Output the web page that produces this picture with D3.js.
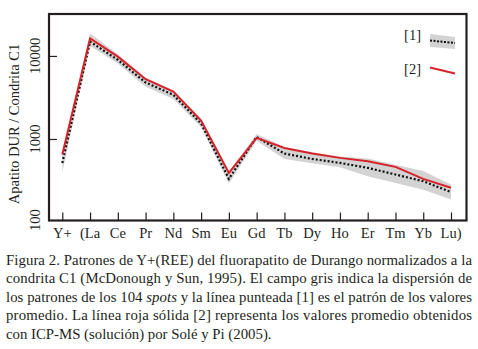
<!DOCTYPE html>
<html>
<head>
<meta charset="utf-8">
<script src="https://cdn.jsdelivr.net/npm/d3@7"></script>
<style>
body { margin: 0; background: #fff; }
svg text { font-family: "Liberation Serif", "DejaVu Serif", serif; fill: #231f20; }
</style>
</head>
<body>
<svg id="chart" width="478" height="349"></svg>
<script>
// elements (chondrite-normalised)
var elements = ["Y+", "La", "Ce", "Pr", "Nd", "Sm", "Eu", "Gd", "Tb", "Dy", "Ho", "Er", "Tm", "Yb", "Lu"];
var tickNames = ["Y+", "(La", "Ce", "Pr", "Nd", "Sm", "Eu", "Gd", "Tb", "Dy", "Ho", "Er", "Tm", "Yb", "Lu)"];

// [2] ICP-MS solucion (Sole y Pi 2005)
var icpms = [650, 16300, 9800, 5250, 3730, 1670, 390, 1030, 780, 667, 592, 539, 461, 331, 258];
// [1] promedio de los 104 spots
var mean = [515, 14860, 8960, 4790, 3400, 1530, 331, 1057, 667, 575, 515, 449, 373, 310, 229];
// campo gris (dispersion)
var bandHigh = [660, 18600, 10500, 5500, 3800, 1700, 400, 1150, 800, 690, 615, 580, 490, 410, 282];
var bandLow = [400, 13200, 8100, 4270, 3020, 1380, 290, 950, 575, 510, 457, 355, 295, 245, 186];

var yTicks = [100, 1000, 10000];
var captionLines = [
  ["Figura 2. Patrones de Y+(REE) del fluorapatito de Durango normalizados a la"],
  ["condrita C1 (McDonough y Sun, 1995). El campo gris indica la dispersión de"],
  ["los patrones de los 104 ", "spots", " y la línea punteada [1] es el patrón de los valores"],
  ["promedio. La línea roja sólida [2] representa los valores promedio obtenidos"],
  ["con ICP-MS (solución) por Solé y Pi (2005)."]
];

var svg = d3.select("#chart");
var frame = {left: 49, right: 466.5, top: 14, bottom: 220.5};

var x = d3.scalePoint().domain(elements).range([62.3, 451]);
var y = d3.scaleLog().domain([100, 32000]).range([222, 14]);

var rows = elements.map(function(e, i) {
  return {el: e, icp: icpms[i], mean: mean[i], lo: bandLow[i], hi: bandHigh[i]};
});

// gray band
svg.append("path")
  .datum(rows)
  .attr("fill", "#d3d3d3")
  .attr("d", d3.area()
    .x(function(d) { return x(d.el); })
    .y0(function(d) { return y(d.lo); })
    .y1(function(d) { return y(d.hi); }));

// dotted mean line
svg.append("path")
  .datum(rows)
  .attr("fill", "none")
  .attr("stroke", "#111")
  .attr("stroke-width", 2.2)
  .attr("stroke-dasharray", "2,2")
  .attr("d", d3.line()
    .x(function(d) { return x(d.el); })
    .y(function(d) { return y(d.mean); }));

// red ICP-MS line
svg.append("path")
  .datum(rows)
  .attr("fill", "none")
  .attr("stroke", "#d7222a")
  .attr("stroke-width", 2)
  .attr("d", d3.line()
    .x(function(d) { return x(d.el); })
    .y(function(d) { return y(d.icp); }));

// axes, ticks pointing inward
var xAx = svg.append("g")
  .attr("transform", "translate(0," + frame.bottom + ")")
  .call(d3.axisTop(x).tickSize(8).tickFormat(""));
xAx.select(".domain").remove();
xAx.selectAll("line").attr("stroke", "#231f20").attr("stroke-width", 1.2);

var yAx = svg.append("g")
  .attr("transform", "translate(" + frame.left + ",0)")
  .call(d3.axisRight(y).tickValues(yTicks.slice(1)).tickSize(8).tickFormat(""));
yAx.select(".domain").remove();
yAx.selectAll("line").attr("stroke", "#231f20").attr("stroke-width", 1.2);

// frame
svg.append("rect")
  .attr("x", frame.left).attr("y", frame.top)
  .attr("width", frame.right - frame.left)
  .attr("height", frame.bottom - frame.top)
  .attr("fill", "none")
  .attr("stroke", "#231f20")
  .attr("stroke-width", 2.2);

// x labels
svg.append("g").selectAll("text")
  .data(elements)
  .join("text")
  .attr("x", function(d) { return x(d); })
  .attr("y", 238)
  .attr("text-anchor", "middle")
  .attr("font-size", 14.5)
  .text(function(d, i) { return tickNames[i]; });

// y labels (rotated)
svg.append("g").selectAll("text")
  .data(yTicks)
  .join("text")
  .attr("transform", function(d) { return "translate(40," + Math.min(y(d), 220) + ") rotate(-90)"; })
  .attr("text-anchor", "middle")
  .attr("font-size", 14.5)
  .text(function(d) { return d; });

svg.append("text")
  .attr("transform", "translate(19,124) rotate(-90)")
  .attr("text-anchor", "middle")
  .attr("font-size", 14.5)
  .text("Apatito DUR / Condrita C1");

// legend
svg.append("text").attr("x", 421).attr("y", 40).attr("text-anchor", "end")
  .attr("font-size", 14.5).text("[1]");
svg.append("path")
  .attr("d", "M430,34 L455,37 L455,49 L430,47 Z")
  .attr("fill", "#d3d3d3");
svg.append("line")
  .attr("x1", 430).attr("y1", 40.5).attr("x2", 455).attr("y2", 43)
  .attr("stroke", "#111").attr("stroke-width", 2).attr("stroke-dasharray", "2,1.5");
svg.append("text").attr("x", 421).attr("y", 74).attr("text-anchor", "end")
  .attr("font-size", 14.5).text("[2]");
svg.append("line")
  .attr("x1", 430).attr("y1", 67.5).attr("x2", 455).attr("y2", 73.5)
  .attr("stroke", "#d7222a").attr("stroke-width", 2);

// caption
var cap = svg.append("g");
captionLines.forEach(function(parts, i) {
  var t = cap.append("text")
    .attr("x", 6)
    .attr("y", 265 + i * 18.4)
    .attr("font-size", 14.8);
  if (i < captionLines.length - 1) {
    t.attr("textLength", 466).attr("lengthAdjust", "spacing");
  }
  parts.forEach(function(p, j) {
    t.append("tspan")
      .attr("font-style", p === "spots" ? "italic" : null)
      .text(p);
  });
});
</script>
</body>
</html>
